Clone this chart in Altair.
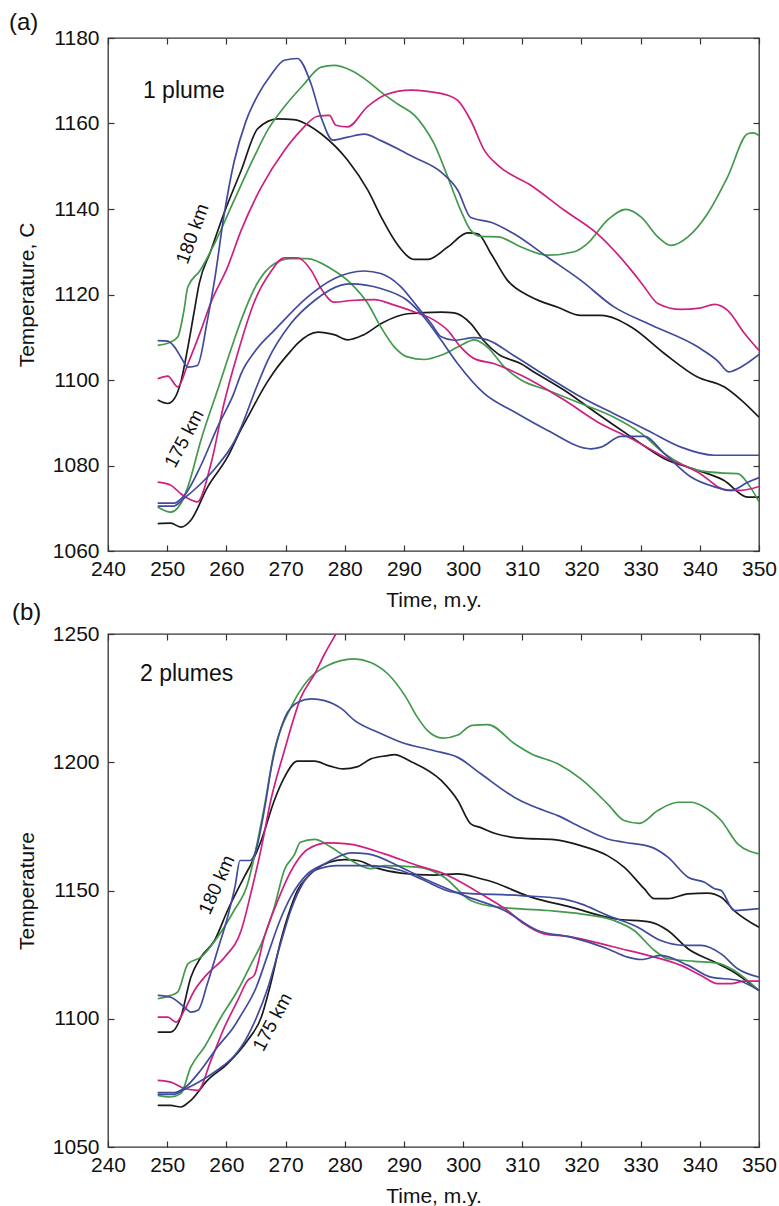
import altair as alt
import pandas as pd

FONT = "Liberation Sans"
BLACK, GREEN, MAGENTA, BLUE = "#1a1a1a", "#43994c", "#cf1f7f", "#414b9b"

XTICKS = [240, 250, 260, 270, 280, 290, 300, 310, 320, 330, 340, 350]
A_YTICKS = [1060, 1080, 1100, 1120, 1140, 1160, 1180]
B_YTICKS = [1050, 1100, 1150, 1200, 1250]

# ---------------- panel (a): 1 plume ----------------
A_BLACK_180 = [(248.4,1095.3),(250.1,1094.5),(251.2,1095.6),(252.3,1099.5),(253.5,1107.7),(254.5,1115.5),(255.4,1122.5),(257.4,1130.3),(259.6,1139),(262.5,1149),(265.3,1158.8),(268.7,1161.1),(271.4,1160.9),(274,1159.5),(276,1157.6),(280.5,1151.4),(283.9,1144.4),(286.4,1137.5),(289,1131.5),(291.8,1128.2),(294,1128.2),(297.4,1131.1),(300.8,1134.4),(302.5,1134.2),(304.7,1129.6),(307.5,1123.3),(311.5,1119.4),(316,1117),(319.9,1115.1),(323.3,1115.1),(328.4,1112.4),(334,1106.2),(339.6,1100.7),(344.1,1098.4),(347,1095.3),(350,1091.3)]
A_GREEN_180 = [(248.4,1108.1),(250.6,1108.9),(251.8,1110.1),(252.8,1116),(253.5,1121.8),(255.5,1125.5),(258,1131.9),(261.3,1142),(264.7,1152.2),(267,1158.5),(269.8,1163.9),(273,1169),(276,1173.2),(278.2,1173.6),(281.1,1172.4),(284,1169.8),(286.1,1167.4),(289,1164.5),(291.8,1161.9),(293.4,1159.2),(295.1,1155.3),(297.4,1147.5),(299.6,1139.7),(301.3,1135),(303,1133.6),(305.9,1133.5),(309.8,1131.1),(314.3,1129.2),(318.8,1130),(321,1131.9),(324.4,1137.4),(327.5,1139.9),(330.1,1138.1),(332.9,1133.5),(335.1,1131.5),(338,1133.5),(341.3,1138.9),(344.7,1147.5),(348.1,1157.6),(349,1157.8),(350,1157.2)]
A_MAGENTA_180 = [(248.4,1100.3),(250.1,1100.9),(251.8,1098.4),(253.5,1103.8),(255.7,1111.6),(257.5,1118.5),(260.2,1126.4),(262.5,1135),(265.9,1145.1),(269.8,1153.7),(272.6,1158.4),(275.4,1161.7),(277.4,1161.9),(278.5,1159.6),(280.5,1159.2),(283.8,1163.9),(287,1166.8),(291.2,1167.8),(294,1167.5),(297.4,1166.6),(299.1,1165.4),(301.3,1160.7),(303.6,1153.7),(305.9,1150.2),(311.5,1145.5),(317.1,1139.7),(322.7,1134.2),(328.4,1125.7),(330.5,1122),(332.9,1117.9),(336.8,1116.5),(340,1116.8),(342.5,1117.7),(344.7,1116.3),(347.5,1111),(350,1106.9)]
A_BLUE_180 = [(248.4,1109.2),(250.1,1109.1),(251.2,1107.8),(252.3,1105.4),(253.5,1103),(255.1,1103.4),(256.8,1114),(258,1123.3),(259.6,1138.5),(261.3,1151),(263.3,1160.5),(265.3,1166.6),(267.5,1171.3),(269.8,1174.8),(272,1175.2),(274.3,1169.3),(276,1161.5),(278,1156.1),(280.5,1156.8),(283.3,1157.5),(286.1,1156),(289.5,1153.7),(291.7,1152.1),(296.3,1148.6),(299.1,1144.4),(301.3,1138),(304.7,1136.9),(308.6,1134.2),(314.3,1128.7),(319.9,1123.3),(325.5,1117.1),(331.2,1113.2),(339.7,1107.7),(343,1104.5),(344.9,1101.9),(345.7,1102.2),(347.5,1103.5),(350,1106)]
A_BLACK_175 = [(248.4,1066.4),(250.6,1066.5),(252.3,1065.6),(254,1067.2),(256.8,1074.9),(260.2,1082),(262.5,1088.5),(263.6,1091.3),(266.9,1099.5),(268.1,1102),(270.9,1106.8),(272,1108.5),(275.5,1111.2),(278.2,1110.6),(280.5,1109.4),(283.1,1110.5),(286.4,1113.4),(290.6,1115.5),(296.3,1115.9),(298.5,1115.7),(301.3,1113.2),(303.6,1109),(306,1106),(309.8,1103.8),(311.5,1102.3),(317.1,1097.6),(322.7,1092.1),(328.4,1086.7),(334,1081.6),(339.6,1078.9),(344.1,1076.5),(348.1,1072.6),(350,1072.6)]
A_GREEN_175 = [(248.4,1070.3),(250.6,1069.1),(252.3,1071.1),(253.5,1075),(255.7,1085.9),(258.5,1097.6),(261.3,1109.3),(262.5,1114),(265.3,1122.8),(268.1,1127.2),(270.9,1128.4),(273.7,1128.4),(277.7,1126),(281.1,1122.5),(283.9,1117.9),(286.1,1112.4),(288.4,1107.7),(290.6,1105.4),(293.4,1104.8),(296.3,1105.8),(299.1,1107.7),(301.9,1109.4),(304.1,1107.7),(307,1103),(309.8,1100),(314.3,1097.6),(319.9,1094.5),(325.5,1091.3),(330.1,1087.5),(334,1082.8),(339.6,1078.9),(344.1,1078.2),(346.4,1078.1),(348.5,1075),(350,1071.5)]
A_MAGENTA_175 = [(248.4,1076.1),(250.6,1075.4),(252.3,1073.4),(253.5,1072.3),(255.1,1071.5),(257.4,1080.4),(259.6,1094.5),(261.9,1106.2),(264.7,1118.2),(267.5,1125.3),(269.8,1128.6),(272,1128.6),(274.3,1125.7),(276,1121.4),(278.2,1118.2),(281.1,1118.6),(285,1118.8),(288.4,1117.5),(291.8,1115.9),(295.1,1114),(297.4,1111.6),(299.6,1107.7),(301.9,1105),(305.3,1103.8),(309.8,1101.1),(311.5,1099.9),(317.1,1095.3),(322.7,1090.2),(328.4,1086.3),(334,1082),(339.6,1078.5),(344.7,1074.2),(347,1074.2),(350,1075.1)]
A_BLUE_175_1 = [(248.4,1071.2),(251.2,1071.2),(252.9,1073),(255.7,1080),(258.5,1089),(261.3,1097),(262.5,1101.5),(265,1107),(268.1,1111.6),(273.7,1119.4),(278.2,1123.7),(283.3,1125.5),(286.1,1124.9),(289.5,1121.8),(292.3,1117.1),(294.6,1113.2),(296.3,1110.1),(298.5,1109.3),(301.9,1109.9),(304.1,1109.4),(308.7,1105.6),(314.3,1100.7),(319.9,1096),(325.5,1092.1),(331.2,1088.2),(336.8,1084.3),(342.5,1082.4),(350,1082.4)]
A_BLUE_175_2 = [(248.4,1070.5),(251,1070.5),(253,1072.5),(255.5,1075.5),(258.5,1080),(261.3,1085.5),(262.5,1089),(265,1098),(267,1104.6),(270.9,1113.2),(274.9,1118.6),(279.4,1122.2),(281.1,1122.5),(286.1,1121.4),(290.6,1118.6),(292.9,1115.5),(296.3,1109.3),(299.1,1103.8),(303.6,1096.8),(308.7,1092.5),(314.3,1088.2),(321.6,1083.9),(323.3,1084.3),(326.7,1086.8),(330.6,1086.8),(334,1082.8),(338.5,1077.3),(342.5,1075),(345.3,1074.2),(348.1,1076.1),(350,1077.2)]

# ---------------- panel (b): 2 plumes ----------------
B_BLACK_180 = [(248.4,1094.8),(250.6,1094.8),(252.3,1100.6),(254,1116.2),(255.7,1124),(258,1130.5),(260.2,1142.2),(263,1155.2),(264.2,1160.4),(265.9,1169.5),(268.1,1185.1),(269.8,1194.1),(272,1200.4),(274.9,1200.4),(277.5,1198.5),(279.7,1197.4),(282.2,1198.3),(284.4,1201.3),(287.3,1202.6),(288.4,1203),(291,1200.5),(296.3,1192.9),(299.1,1185.1),(301.3,1176),(303,1174.5),(305.3,1172.3),(309.8,1170.4),(315.4,1169.8),(319.9,1167.5),(324.4,1163.6),(327.2,1159.1),(330.6,1150.7),(332.3,1146.8),(334.6,1146.8),(338,1148.7),(341.3,1149),(343.6,1147.4),(345.8,1142.2),(350,1135.7)]
B_GREEN_180 = [(248.4,1107.8),(250.6,1109.1),(251.8,1110.5),(253.5,1121.4),(255.7,1124),(258.5,1131.8),(261.3,1142.2),(263.6,1152.6),(264.7,1163),(266.4,1182.5),(268.1,1204.5),(270.9,1221.4),(273.7,1231.8),(277.1,1237.7),(281.6,1240.3),(284.4,1238.9),(287.3,1234.4),(290.3,1225.5),(292.3,1217.5),(294,1212.3),(296.6,1209.4),(299.1,1210.6),(301.5,1214.4),(304.2,1214.7),(308.7,1207.2),(311.5,1203.3),(316,1199.4),(319.9,1193.5),(324.4,1183.8),(327.2,1177.3),(329.8,1176.2),(332.9,1181.2),(336.3,1184.4),(338.5,1184.4),(340.8,1182.5),(343.6,1177.3),(346.4,1168.2),(350,1164.3)]
B_MAGENTA_180 = [(248.4,1100.6),(250.1,1100.6),(251.5,1098.7),(252.9,1103.3),(254.6,1111),(256.8,1117.5),(259.7,1124),(262.5,1134.4),(264.2,1149.5),(265.9,1166.5),(267.5,1185.1),(269.8,1204.5),(272.6,1225.3),(274.9,1234.4),(276.6,1242.2),(278.5,1250),(279.5,1254)]
B_BLUE_180 = [(248.4,1109.1),(250.6,1108.4),(252.9,1104.5),(254,1102.6),(255.2,1103.3),(256.8,1113.7),(258.5,1126.6),(260.2,1139.6),(261.5,1152),(262.3,1161.7),(264,1161.7),(264.8,1164.3),(266.5,1182.5),(267.6,1198),(269.9,1217.5),(272.1,1223.4),(274.4,1224.7),(276.6,1224),(279.5,1220.8),(281.7,1216.2),(285.6,1211.7),(289.5,1207.8),(295.1,1204.5),(299.1,1201.9),(303,1195.5),(308.7,1186.3),(311.5,1183.1),(316,1179.2),(319.9,1174.7),(324.4,1170.1),(327.2,1168.8),(331.8,1166.9),(334.6,1163),(338,1155.2),(340.8,1153.2),(342.5,1150.7),(343.6,1150),(345.8,1142.2),(350,1142.9)]
B_BLACK_175 = [(248.4,1066.2),(250.6,1066.2),(252.3,1065.6),(254,1068.2),(256.8,1076),(260.2,1082.5),(263.6,1091.6),(265.9,1100.6),(267.5,1113.7),(269.2,1130.5),(270.9,1143.5),(272,1150),(273.7,1155.2),(277.4,1161),(279.9,1162),(282.2,1161.7),(285.3,1158.8),(289.5,1156.8),(295.1,1156),(299.1,1156.5),(303,1154.6),(304.2,1153.9),(311.5,1147.4),(318.2,1143.5),(325.5,1139),(331.8,1137.6),(334.6,1134.4),(338,1127.3),(342.5,1122.1),(345.3,1118.8),(350,1111)]
B_GREEN_175 = [(248.4,1070.1),(250.6,1069.5),(252.3,1070.8),(254,1081.2),(256.3,1089),(259.1,1100.6),(261.9,1111),(264.2,1121.4),(265.9,1129.2),(268.1,1143.5),(269.8,1158),(271.5,1164),(272.5,1168.8),(274.9,1169.9),(277.7,1166.9),(281.1,1161.7),(284.4,1158.5),(286.7,1159.7),(292.3,1159.1),(296.8,1155.2),(301.3,1146.1),(305.9,1143.5),(314.3,1142.2),(319.9,1140.9),(325.5,1138.3),(328.9,1134.4),(332.3,1126.7),(334.6,1123.4),(339.1,1122.4),(343,1121.7),(345.8,1118.8),(350,1111)]
B_MAGENTA_175 = [(248.4,1076),(250.6,1075.3),(252.9,1072.8),(255.2,1072.1),(257.4,1083.8),(259.7,1096.8),(261.9,1107.1),(263.6,1114.9),(264.7,1116.9),(266.4,1131.8),(268.7,1146.1),(270.4,1155.2),(272,1161.7),(273.7,1166),(277.1,1168.6),(280.5,1168.2),(286.7,1164.3),(292.3,1159.7),(296.8,1156.5),(299.1,1153.9),(303,1148.7),(307.5,1142.2),(310.3,1137),(313.7,1133.1),(317.7,1132.1),(322.2,1129.9),(326.7,1127.3),(331.2,1124.7),(336.8,1120.8),(340.2,1116.9),(343,1113.7),(345.3,1113.7),(347.5,1114.7),(350,1114.7)]
B_BLUE_175_1 = [(248.4,1071.2),(251.2,1071.2),(252.9,1073),(255.7,1080),(258.5,1089),(261.3,1097),(262.5,1101.5),(265,1112),(267,1125),(269,1138),(271,1148),(273.7,1156.5),(276.6,1160.4),(281.1,1164.7),(283.9,1164.3),(289.5,1159.1),(294,1154),(300.2,1148),(307,1142.2),(312.6,1134.4),(318.2,1131.8),(324.4,1127.3),(327.8,1124),(330.1,1123.1),(333.4,1124.7),(338,1120.8),(341.9,1116.2),(346.4,1115),(350,1111)]
B_BLUE_175_2 = [(248.4,1070.5),(251,1070.5),(253,1072.5),(255.5,1075.5),(258.5,1080),(261.3,1085.5),(262.5,1089),(265,1100),(267,1112),(269,1128),(271,1143),(273,1153),(274.9,1157.8),(278.8,1159.7),(283.9,1159.7),(289.5,1157.8),(292.9,1154.5),(298.5,1149.3),(309.8,1148),(316.5,1146.8),(319.9,1144.8),(324.4,1140.3),(329.5,1135.7),(333.4,1130.5),(337.4,1128.6),(340.2,1128.6),(343.6,1125.3),(346.4,1119.5),(350,1116.2)]

A_SERIES = [("black180", BLACK, A_BLACK_180), ("green180", GREEN, A_GREEN_180),
            ("magenta180", MAGENTA, A_MAGENTA_180), ("blue180", BLUE, A_BLUE_180),
            ("black175", BLACK, A_BLACK_175), ("green175", GREEN, A_GREEN_175),
            ("magenta175", MAGENTA, A_MAGENTA_175), ("blue175a", BLUE, A_BLUE_175_1),
            ("blue175b", BLUE, A_BLUE_175_2)]
B_SERIES = [("black180", BLACK, B_BLACK_180), ("green180", GREEN, B_GREEN_180),
            ("magenta180", MAGENTA, B_MAGENTA_180), ("blue180", BLUE, B_BLUE_180),
            ("black175", BLACK, B_BLACK_175), ("green175", GREEN, B_GREEN_175),
            ("magenta175", MAGENTA, B_MAGENTA_175), ("blue175a", BLUE, B_BLUE_175_1),
            ("blue175b", BLUE, B_BLUE_175_2)]

W, H = 651, 513
TXT = "#111111"
AX = dict(labelFont=FONT, labelFontSize=21, labelColor=TXT, titleFont=FONT, titleFontSize=21,
          titleFontWeight="normal", titleColor=TXT, tickColor="#333333", tickWidth=1.2,
          tickSize=6, offset=-6, domain=False, grid=False, labelFlush=False)


def panel(series, ydomain, yticks, ytitle, tag, tag_y, plume, plume_pos, km):
    rows = []
    for name, _, pts in series:
        for t, temp in pts:
            rows.append({"series": name, "t": t, "T": temp})
    df = pd.DataFrame(rows)
    names = [s[0] for s in series]
    colors = [s[1] for s in series]
    xs = alt.Scale(domain=[240, 350], nice=False, zero=False)
    ys = alt.Scale(domain=ydomain, nice=False, zero=False)

    lines = alt.Chart(df).mark_line(clip=True, strokeWidth=1.7, interpolate="monotone").encode(
        x=alt.X("t:Q", scale=xs, axis=alt.Axis(orient="bottom", values=XTICKS, format="d",
                                              title="Time, m.y.", labelPadding=7,
                                              titlePadding=10, labelOverlap=False, **AX)),
        y=alt.Y("T:Q", scale=ys, axis=alt.Axis(orient="left", values=yticks, format="d",
                                              title=ytitle, labelPadding=9,
                                              titlePadding=15, labelOverlap=False, **AX)),
        color=alt.Color("series:N", scale=alt.Scale(domain=names, range=colors), legend=None),
        detail="series:N",
    )
    ticks = alt.Chart(df).mark_line(strokeOpacity=0).encode(
        x=alt.X("t:Q", scale=xs, axis=alt.Axis(orient="top", values=XTICKS, labels=False,
                                              title=None, **AX)),
        y=alt.Y("T:Q", scale=ys, axis=alt.Axis(orient="right", values=yticks, labels=False,
                                              title=None, **AX)),
        detail="series:N",
    )
    tag_layer = alt.Chart(pd.DataFrame({"s": [tag]})).mark_text(
        align="left", baseline="middle", fontSize=24, font=FONT, color=TXT
    ).encode(x=alt.value(tag_y[0]), y=alt.value(tag_y[1]), text="s:N")
    plume_layer = alt.Chart(pd.DataFrame({"s": [plume], "t": [plume_pos[0]], "T": [plume_pos[1]]})).mark_text(
        align="left", baseline="alphabetic", fontSize=23, font=FONT, color=TXT
    ).encode(x=alt.X("t:Q", scale=xs, axis=None), y=alt.Y("T:Q", scale=ys, axis=None), text="s:N")
    layers = [lines, ticks, tag_layer, plume_layer]
    for label, t, temp, ang in km:
        layers.append(
            alt.Chart(pd.DataFrame({"s": [label], "t": [t], "T": [temp]})).mark_text(
                align="center", baseline="middle", fontSize=19, font=FONT, color=TXT, angle=ang
            ).encode(x=alt.X("t:Q", scale=xs, axis=None), y=alt.Y("T:Q", scale=ys, axis=None), text="s:N")
        )
    return alt.layer(*layers).resolve_axis(x="independent", y="independent").properties(width=W, height=H)


pa = panel(A_SERIES, [1060, 1180], A_YTICKS, "Temperature, C", "(a)", (-99, -15),
           "1 plume", (245.9, 1166.0),
           [("180 km", 254.3, 1134.2, 290), ("175 km", 252.9, 1086.3, 298)])
pb = panel(B_SERIES, [1050, 1250], B_YTICKS, "Temperature", "(b)", (-96, -21),
           "2 plumes", (245.4, 1231.5),
           [("180 km", 258.4, 1152.2, 294), ("175 km", 267.8, 1098.7, 298)])

chart = alt.vconcat(pa, pb, spacing=83, bounds="flush").properties(
    padding={"left": 8, "top": 10, "right": 0, "bottom": 0},
    background="white"
).configure_view(stroke="#333333", strokeWidth=1.3)

chart.save("out.html", embed_options={"renderer": "svg", "actions": False})
